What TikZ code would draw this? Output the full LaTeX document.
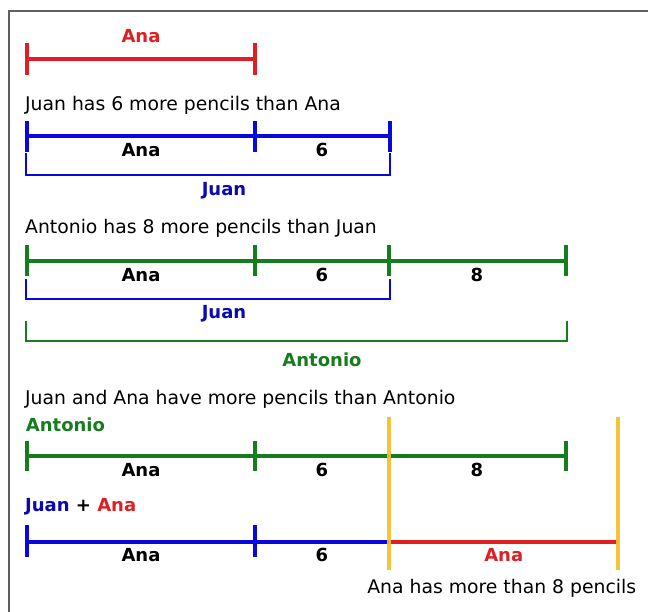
\documentclass[tikz,border=0pt]{standalone}
\usepackage{fontspec}
\setmainfont{DejaVu Sans}
\definecolor{anared}{RGB}{222,32,36}
\definecolor{juanblue}{RGB}{8,8,220}
\definecolor{juantext}{RGB}{10,10,180}
\definecolor{antgreen}{RGB}{22,125,30}
\definecolor{mark}{RGB}{245,192,40}
\definecolor{frame}{RGB}{95,95,95}
\begin{document}
\begin{tikzpicture}[x=1pt,y=-1pt,
  bar/.style={line width=3.6pt},
  tick/.style={line width=3.6pt},
  brace/.style={line width=1.8pt},
  guide/.style={line width=3.6pt,color=mark,opacity=0.92},
  sentence/.style={anchor=base west,inner sep=0pt,font=\fontsize{18.8}{20}\selectfont},
  lbl/.style={anchor=base,inner sep=0pt,font=\fontsize{18}{20}\selectfont\bfseries},
  llbl/.style={anchor=base west,inner sep=0pt,font=\fontsize{18}{20}\selectfont\bfseries}]
\useasboundingbox (0,0) rectangle (648,612);
\fill[white] (0,0) rectangle (648,612);
% frame
\draw[frame,line width=2pt] (9,612) -- (9,11) -- (648,11);

% --- Ana alone
\node[lbl,anared] (t1) at (141,42.7) {Ana};
\coordinate (a0) at (27,59.3);
\coordinate (a1) at (255,59.3);
\draw[bar,anared] (a0) -- (a1);
\foreach \p in {a0,a1}
  \draw[tick,anared] (\p) ++(0,-16) -- ++(0,32);

% --- Juan = Ana + 6
\node[sentence] (s1) at (25,110.7) {Juan has 6 more pencils than Ana};
\coordinate (b0) at (27,136);
\coordinate (b1) at (255,136);
\coordinate (b2) at (390,136);
\draw[bar,juanblue] (b0) -- (b2);
\foreach \p in {b0,b1,b2}
  \draw[tick,juanblue] (\p) ++(0,-14.5) -- ++(0,30.5);
\node[lbl] (b01) at (141,157) {Ana};
\node[lbl] (b12) at (322,157) {6};
\coordinate (bj0) at (26,153);
\coordinate (bj1) at (390,153);
\draw[brace,juanblue] (bj0) -- ++(0,22) -| (bj1);
\node[lbl,juantext] (bj) at (224,196) {Juan};

% --- Antonio = Juan + 8
\node[sentence] (s2) at (25,233.3) {Antonio has 8 more pencils than Juan};
\coordinate (c0) at (27,261);
\coordinate (c1) at (255,261);
\coordinate (c2) at (389,261);
\coordinate (c3) at (566,261);
\draw[bar,antgreen] (c0) -- (c3);
\foreach \p in {c0,c1,c2,c3}
  \draw[tick,antgreen] (\p) ++(0,-15.5) -- ++(0,30.5);
\node[lbl] (c01) at (141,281.7) {Ana};
\node[lbl] (c12) at (322,281.7) {6};
\node[lbl] (c23) at (477,281.7) {8};
\coordinate (cj0) at (26,279);
\coordinate (cj1) at (390,279);
\draw[brace,juanblue] (cj0) -- ++(0,20) -| (cj1);
\node[lbl,juantext] (cj) at (224,319) {Juan};
\coordinate (ca0) at (26,321);
\coordinate (ca1) at (567,321);
\draw[brace,antgreen] (ca0) -- ++(0,20) -| (ca1);
\node[lbl,antgreen] (ca) at (322,366.7) {Antonio};

% --- comparison
\node[sentence] (s3) at (25,404.3) {Juan and Ana have more pencils than Antonio};
\node[llbl,antgreen] (dn) at (25.7,431.7) {Antonio};
\coordinate (d0) at (27,456);
\coordinate (d1) at (255,456);
\coordinate (d3) at (566,456);
\draw[bar,antgreen] (d0) -- (d3);
\foreach \p in {d0,d1,d3}
  \draw[tick,antgreen] (\p) ++(0,-15.5) -- ++(0,30.5);
\node[lbl] (d01) at (141,476.7) {Ana};
\node[lbl] (d12) at (322,476.7) {6};
\node[lbl] (d23) at (477,476.7) {8};

\node[llbl] (en) at (25,511.7) {\textcolor{juantext}{Juan} + \textcolor{anared}{Ana}};
\coordinate (e0) at (27,541.7);
\coordinate (e1) at (255,541.7);
\coordinate (e2) at (389,541.7);
\coordinate (e3) at (618,541.7);
\draw[bar,juanblue] (e0) -- (e2);
\draw[bar,anared] (e2) -- (e3);
\foreach \p in {e0,e1}
  \draw[tick,juanblue] (\p) ++(0,-16.5) -- ++(0,31.5);
\node[lbl] (e01) at (141,561.7) {Ana};
\node[lbl] (e12) at (322,561.7) {6};
\node[lbl,anared] (e23) at (503.7,561.7) {Ana};

% gold guides marking the extra Ana
\coordinate (g0t) at (389,417);
\coordinate (g0b) at (389,570);
\coordinate (g1t) at (618,417);
\coordinate (g1b) at (618,570);
\draw[guide] (g0t) -- (g0b);
\draw[guide] (g1t) -- (g1b);

\node[sentence,anchor=base east] (s4) at (636.3,593) {Ana has more than 8 pencils};
\end{tikzpicture}
\end{document}
